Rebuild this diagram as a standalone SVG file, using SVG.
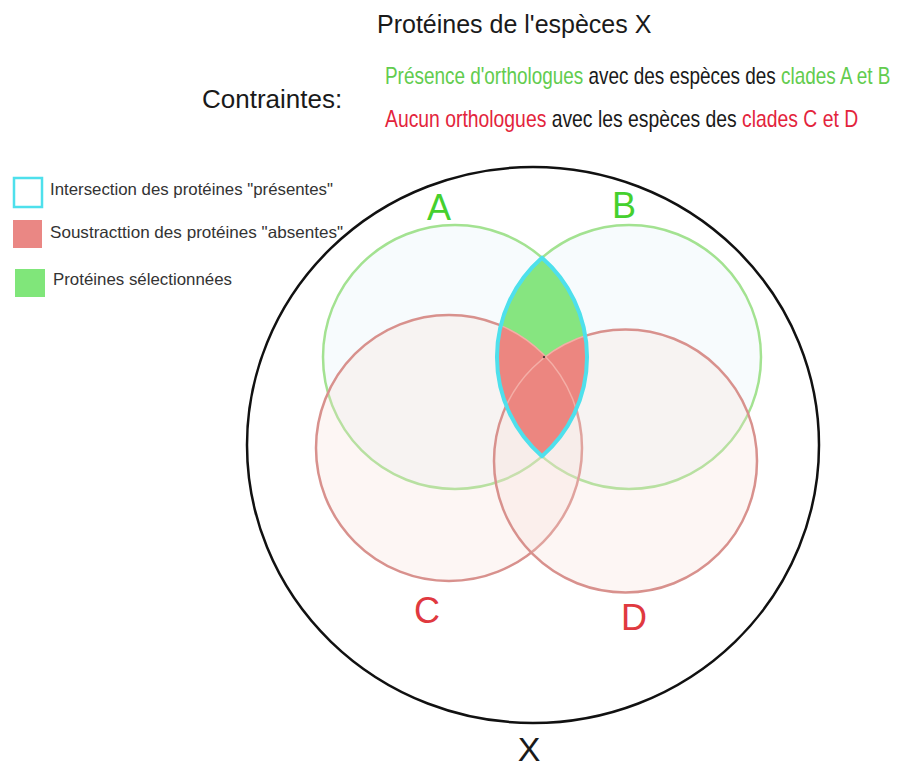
<svg xmlns="http://www.w3.org/2000/svg" width="897" height="769" viewBox="0 0 897 769">
<style>
text{font-family:"Liberation Sans",Arial,sans-serif}
.dark{fill:#1a1a1a}
.legend{fill:#333;font-size:16.5px}
.c23{font-size:23px}
.grn{fill:#62cc4e}
.red{fill:#e3243c}
.setG{fill:#eef7fa;fill-opacity:0.45;stroke:#a3e291;stroke-width:2.5}
.setR{fill:#f7dcd4;fill-opacity:0.25;stroke:#d8918d;stroke-width:2.5}
.big{font-size:36px;text-anchor:middle}
</style>
<defs>
<clipPath id="lensClip"><path d="M542,257.7 A132,132 0 0 0 542,456.3 A132,132 0 0 0 542,257.7 Z"/></clipPath>
</defs>
<rect width="897" height="769" fill="#ffffff"/>
<g id="title">
<text x="377" y="33" class="dark" font-size="25">Protéines de l'espèces X</text>
<text x="202" y="108" class="dark" font-size="26">Contraintes:</text>
<text transform="translate(385,84) scale(0.8236,1)" class="c23"><tspan class="grn">Présence d'orthologues</tspan><tspan class="dark"> avec des espèces des </tspan><tspan class="grn">clades A et B</tspan></text>
<text transform="translate(385,127) scale(0.841,1)" class="c23"><tspan class="red">Aucun orthologues</tspan><tspan class="dark"> avec les espèces des </tspan><tspan class="red">clades C et D</tspan></text>
</g>
<g id="legend">
<rect x="14" y="178" width="28" height="29" fill="#ffffff" stroke="#4ee0ec" stroke-width="2.5"/>
<text x="50" y="195" class="legend" textLength="283" lengthAdjust="spacingAndGlyphs">Intersection des protéines "présentes"</text>
<rect x="13" y="220" width="29" height="28" fill="#ea8784"/>
<text x="50" y="238" class="legend" textLength="293" lengthAdjust="spacingAndGlyphs">Soustracttion des protéines "absentes"</text>
<rect x="15" y="269" width="30" height="28" fill="#80e67a"/>
<text x="53" y="285" class="legend" textLength="179" lengthAdjust="spacingAndGlyphs">Protéines sélectionnées</text>
</g>
<g id="set-X">
<ellipse cx="533" cy="445" rx="286" ry="278" fill="none" stroke="#111" stroke-width="2.5"/>
<text x="529" y="761" class="dark" font-size="34" text-anchor="middle">X</text>
</g>
<g id="set-A">
<circle cx="455" cy="357" r="132" class="setG"/>
<text x="439" y="220" class="big" fill="#45d02e">A</text>
</g>
<g id="set-B">
<circle cx="629" cy="357" r="132" class="setG"/>
<text x="624" y="218" class="big" fill="#45d02e">B</text>
</g>
<g id="set-C">
<circle cx="449" cy="448" r="133" class="setR"/>
<text x="427" y="623" class="big" fill="#e0393f">C</text>
</g>
<g id="set-D">
<circle cx="625.5" cy="461" r="131.5" class="setR" stroke="#cf8b88"/>
<text x="634" y="630" class="big" fill="#e0393f">D</text>
</g>
<g id="selection">
<path d="M542,257.7 A132,132 0 0 0 542,456.3 A132,132 0 0 0 542,257.7 Z" fill="#86e580"/>
<g clip-path="url(#lensClip)">
<circle cx="449" cy="448" r="133" fill="#ec8680"/>
<circle cx="625.5" cy="461" r="131.5" fill="#ec8680"/>
<circle cx="449" cy="448" r="133" fill="none" stroke="#f4aea6" stroke-width="1.5"/>
<circle cx="625.5" cy="461" r="131.5" fill="none" stroke="#f4aea6" stroke-width="1.5"/>
</g>
<path d="M542,257.7 A132,132 0 0 0 542,456.3 A132,132 0 0 0 542,257.7 Z" fill="none" stroke="#4ee0ec" stroke-width="4" stroke-linejoin="round"/>
<circle cx="544" cy="357" r="1.2" fill="#5a3a3a"/>
</g>
<g id="connectors"/>
</svg>
